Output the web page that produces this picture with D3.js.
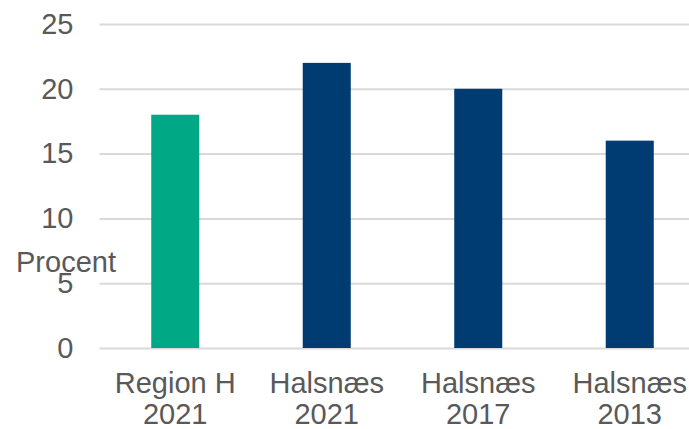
<!DOCTYPE html>
<html>
<head>
<meta charset="utf-8">
<script src="https://cdn.jsdelivr.net/npm/d3@7"></script>
<style>
  html, body { margin: 0; padding: 0; background: #fff; overflow: hidden; }
  svg { display: block; }
  text { font-family: "Liberation Sans", Arial, sans-serif; fill: #595959; }
</style>
</head>
<body>
<svg id="chart" width="689" height="429"></svg>
<script>
// Andel i procent, Region H og Halsnæs over tid
const categories = [["Region H", "2021"], ["Halsnæs", "2021"], ["Halsnæs", "2017"], ["Halsnæs", "2013"]];
const values = [18, 22, 20, 16];
const barColors = ["#00a886", "#003b71", "#003b71", "#003b71"];
const yTicks = [0, 5, 10, 15, 20, 25];
const yLabel = "Procent";

const fontSize = 29;
const svg = d3.select("#chart");
const plot = { left: 99.5, right: 705.5, top: 24, bottom: 348 };

const keys = categories.map(c => c.join(" "));
const x = d3.scaleBand()
  .domain(keys)
  .range([plot.left, plot.right])
  .paddingInner(0.683)
  .paddingOuter(0.683 / 2);

const y = d3.scaleLinear().domain([0, 25]).range([plot.bottom, plot.top]);

// Gridlines and tick labels
const yAxis = d3.axisLeft(y).tickValues(yTicks).tickSize(0).tickPadding(0).tickFormat(d3.format("d"));
const gy = svg.append("g").attr("transform", `translate(${plot.left},0)`).call(yAxis);
gy.select(".domain").remove();
gy.selectAll(".tick line")
  .attr("x2", plot.right - plot.left)
  .attr("stroke", "#d9d9d9")
  .attr("stroke-width", 2);
gy.selectAll(".tick text")
  .attr("x", -26)
  .attr("dy", "0.32em")
  .attr("font-size", fontSize)
  .attr("fill", "#595959")
  .attr("font-family", "Liberation Sans, Arial, sans-serif");

// Bars
svg.append("g").selectAll("rect")
  .data(values)
  .join("rect")
  .attr("x", (d, i) => x(keys[i]))
  .attr("width", x.bandwidth())
  .attr("y", d => y(d))
  .attr("height", d => y(0) - y(d))
  .attr("fill", (d, i) => barColors[i]);

// Category labels (two lines)
const gx = svg.append("g");
categories.forEach((c, i) => {
  const cx = x(keys[i]) + x.bandwidth() / 2;
  const t = gx.append("text")
    .attr("text-anchor", "middle")
    .attr("font-size", fontSize)
    .attr("x", cx)
    .attr("y", 393);
  t.append("tspan").attr("x", cx).text(c[0]);
  t.append("tspan").attr("x", cx).attr("dy", 31).text(c[1]);
});

// Axis title
svg.append("text")
  .attr("x", 16)
  .attr("y", 272)
  .attr("font-size", fontSize)
  .text(yLabel);
</script>
</body>
</html>
